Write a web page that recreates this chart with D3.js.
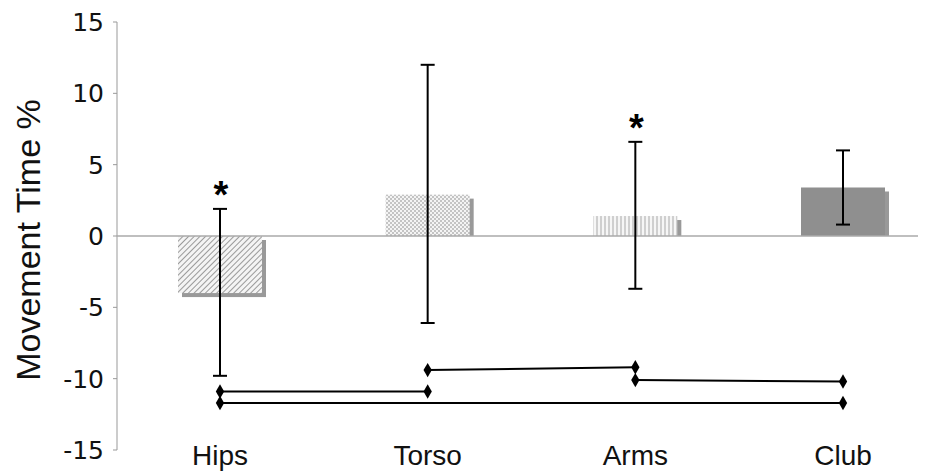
<!DOCTYPE html>
<html lang="en">
<head>
    <meta charset="UTF-8">
    <title>Movement Time %</title>
    <script src="https://cdnjs.cloudflare.com/ajax/libs/d3/7.8.5/d3.min.js"></script>
    <style>
        body { margin: 0; background: #fff; }
        .tick-label { font-family: 'DejaVu Sans', Verdana, sans-serif; font-size: 25px; fill: #111; }
        .cat-label { font-family: 'Liberation Sans', Arial, sans-serif; font-size: 28px; fill: #111; }
        .axis-title { font-family: 'Liberation Sans', Arial, sans-serif; font-size: 34px; fill: #111; }
    </style>
</head>
<body>
<svg id="chart" width="935" height="471"></svg>
<script>
    // data
    const categories = ['Hips', 'Torso', 'Arms', 'Club'];
    const means = [-4.0, 2.9, 1.4, 3.4];
    const errLow = [-9.8, -6.1, -3.7, 0.8];
    const errHigh = [1.9, 12.0, 6.6, 6.0];
    const starred = ['Hips', 'Arms'];
    // significance brackets: [from, to, value at from, value at to]
    const sigLines = [
        ['Torso', 'Arms', -9.4, -9.2],
        ['Arms', 'Club', -10.1, -10.2],
        ['Hips', 'Torso', -10.9, -10.9],
        ['Hips', 'Club', -11.7, -11.7]
    ];
    const yTicks = [15, 10, 5, 0, -5, -10, -15];
    const fills = ['url(#hatch)', 'url(#checker)', 'url(#vstripe)', '#8f8f8f'];

    const svg = d3.select('#chart');
    const axisX = 117;
    const barW = 84;

    const y = d3.scaleLinear().domain([-15, 15]).range([450, 22]);
    const x = d3.scalePoint().domain(categories).range([220, 843]);

    // patterns
    const defs = svg.append('defs');
    const hatch = defs.append('pattern').attr('id', 'hatch')
        .attr('width', 4).attr('height', 4)
        .attr('patternUnits', 'userSpaceOnUse')
        .attr('patternTransform', 'rotate(45)');
    hatch.append('rect').attr('width', 4).attr('height', 4).attr('fill', '#f4f4f4');
    hatch.append('line').attr('x1', 0).attr('y1', 0).attr('x2', 0).attr('y2', 4)
        .attr('stroke', '#9a9a9a').attr('stroke-width', 2);

    const checker = defs.append('pattern').attr('id', 'checker')
        .attr('width', 4).attr('height', 4).attr('patternUnits', 'userSpaceOnUse');
    checker.append('rect').attr('width', 4).attr('height', 4).attr('fill', '#f4f4f4');
    checker.append('rect').attr('width', 2).attr('height', 2).attr('fill', '#c4c4c4');
    checker.append('rect').attr('x', 2).attr('y', 2).attr('width', 2).attr('height', 2).attr('fill', '#c4c4c4');

    const vstripe = defs.append('pattern').attr('id', 'vstripe')
        .attr('width', 4).attr('height', 4).attr('patternUnits', 'userSpaceOnUse');
    vstripe.append('rect').attr('width', 4).attr('height', 4).attr('fill', '#f6f6f6');
    vstripe.append('rect').attr('width', 2).attr('height', 4).attr('fill', '#cfcfcf');

    // y axis
    svg.append('line')
        .attr('x1', axisX).attr('x2', axisX)
        .attr('y1', y(15)).attr('y2', y(-15))
        .attr('stroke', '#999').attr('stroke-width', 1);

    svg.selectAll('.ytick').data(yTicks).join('line')
        .attr('class', 'ytick')
        .attr('x1', axisX - 4).attr('x2', axisX)
        .attr('y1', d => y(d)).attr('y2', d => y(d))
        .attr('stroke', '#999');

    svg.selectAll('.tick-label').data(yTicks).join('text')
        .attr('class', 'tick-label')
        .attr('x', 104)
        .attr('y', d => y(d))
        .attr('dy', '0.36em')
        .attr('text-anchor', 'end')
        .text(d => d);

    svg.append('text')
        .attr('class', 'axis-title')
        .attr('transform', `translate(40, 240) rotate(-90)`)
        .attr('text-anchor', 'middle')
        .text('Movement Time %');

    // bar shadows
    svg.selectAll('.shadow').data(categories).join('rect')
        .attr('class', 'shadow')
        .attr('x', d => x(d) - barW / 2 + 4)
        .attr('y', (d, i) => means[i] >= 0 ? y(means[i]) + 4 : y(0) + 4)
        .attr('width', barW)
        .attr('height', (d, i) => Math.abs(y(means[i]) - y(0)) - (means[i] >= 0 ? 4 : 0))
        .attr('fill', '#999');

    // bars
    svg.selectAll('.bar').data(categories).join('rect')
        .attr('class', 'bar')
        .attr('x', d => x(d) - barW / 2)
        .attr('y', (d, i) => Math.min(y(means[i]), y(0)))
        .attr('width', barW)
        .attr('height', (d, i) => Math.abs(y(means[i]) - y(0)))
        .attr('fill', (d, i) => fills[i]);

    // zero line
    svg.append('line')
        .attr('x1', axisX).attr('x2', 918)
        .attr('y1', y(0)).attr('y2', y(0))
        .attr('stroke', '#aaa').attr('stroke-width', 1.5);

    // error bars
    const eb = svg.selectAll('.err').data(categories).join('g').attr('class', 'err');
    eb.append('line')
        .attr('x1', d => x(d)).attr('x2', d => x(d))
        .attr('y1', (d, i) => y(errHigh[i])).attr('y2', (d, i) => y(errLow[i]))
        .attr('stroke', '#000').attr('stroke-width', 2);
    eb.append('line')
        .attr('x1', d => x(d) - 7).attr('x2', d => x(d) + 7)
        .attr('y1', (d, i) => y(errHigh[i])).attr('y2', (d, i) => y(errHigh[i]))
        .attr('stroke', '#000').attr('stroke-width', 2);
    eb.append('line')
        .attr('x1', d => x(d) - 7).attr('x2', d => x(d) + 7)
        .attr('y1', (d, i) => y(errLow[i])).attr('y2', (d, i) => y(errLow[i]))
        .attr('stroke', '#000').attr('stroke-width', 2);

    // asterisks
    svg.selectAll('.star').data(starred).join('text')
        .attr('class', 'star')
        .attr('x', d => x(d) + 1)
        .attr('y', d => y(errHigh[categories.indexOf(d)]) - 1)
        .attr('text-anchor', 'middle')
        .attr('font-family', 'Liberation Sans, Arial, sans-serif')
        .attr('font-weight', 'bold')
        .attr('font-size', 38)
        .text('*');

    // significance lines
    const diamond = d3.symbol().type(d3.symbolDiamond).size(60);
    const sg = svg.selectAll('.sig').data(sigLines).join('g').attr('class', 'sig');
    sg.append('line')
        .attr('x1', d => x(d[0])).attr('x2', d => x(d[1]))
        .attr('y1', d => y(d[2])).attr('y2', d => y(d[3]))
        .attr('stroke', '#000').attr('stroke-width', 2);
    sg.append('path').attr('d', diamond)
        .attr('transform', d => `translate(${x(d[0])},${y(d[2])})`);
    sg.append('path').attr('d', diamond)
        .attr('transform', d => `translate(${x(d[1])},${y(d[3])})`);

    // category labels
    svg.selectAll('.cat-label').data(categories).join('text')
        .attr('class', 'cat-label')
        .attr('x', d => x(d))
        .attr('y', 465)
        .attr('text-anchor', 'middle')
        .text(d => d);
</script>
</body>
</html>
